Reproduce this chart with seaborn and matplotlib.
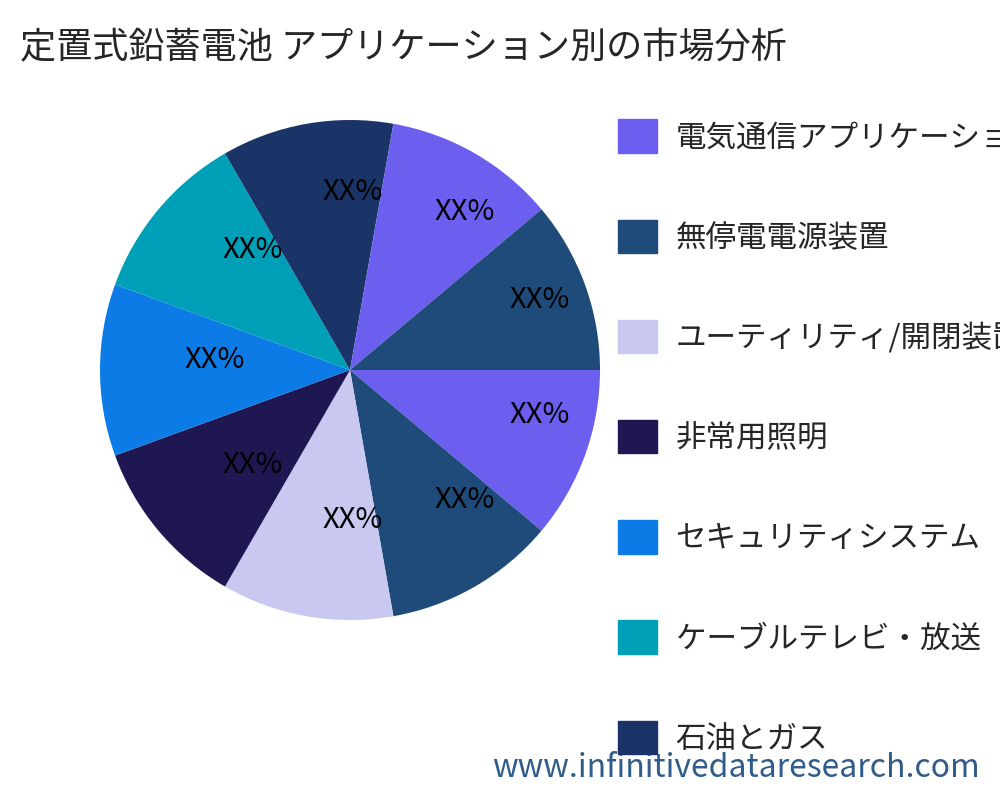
import matplotlib
matplotlib.use("Agg")
import matplotlib.pyplot as plt
import seaborn as sns
from matplotlib.patches import Patch

sns.set_theme(style="white")
plt.rcParams['font.family'] = ['Noto Sans CJK JP', 'DejaVu Sans']

labels = ["電気通信アプリケーション", "無停電電源装置", "ユーティリティ/開閉装置", "非常用照明",
          "セキュリティシステム", "ケーブルテレビ・放送", "石油とガス", "その他", "その他2"]
values = [1, 1, 1, 1, 1, 1, 1, 1, 1]
pct_text = ["XX%"] * 9
palette = ["#6C5FF0", "#1F4B7A", "#C8C8F0", "#1E1752", "#0C7BE6", "#009FB8", "#1B3468"]
colors = [palette[i % len(palette)] for i in range(len(values))]
# label placement (layout, in pie-radius units)
label_pos = [(0.76, -0.18), (0.46, -0.52), (0.01, -0.60), (-0.39, -0.38), (-0.54, 0.04),
             (-0.39, 0.48), (0.01, 0.71), (0.46, 0.63), (0.76, 0.28)]

fig = plt.figure(figsize=(10, 8), dpi=100)
ax = fig.add_axes([0.1, 0.225, 0.5, 0.625])
wedges, _ = ax.pie(values, colors=colors, startangle=0, counterclock=False,
                   wedgeprops=dict(linewidth=0))
for (x, y), t in zip(label_pos, pct_text):
    ax.text(x, y, t, ha="center", va="center", fontsize=21, color="black")
ax.set_xlim(-1, 1)
ax.set_ylim(-1, 1)
ax.set_aspect("equal")

handles = [Patch(color=palette[i]) for i in range(7)]
fig.legend(handles, labels[:7], loc="upper left", bbox_to_anchor=(0.59, 0.885),
           frameon=False, fontsize=22, handlelength=1.3, handleheight=1.3,
           labelspacing=2.17, handletextpad=0.6)

fig.text(0.02, 0.94, "定置式鉛蓄電池 アプリケーション別の市場分析", fontsize=26, ha="left", va="center")
fig.text(0.98, 0.04, "www.infinitivedataresearch.com", fontsize=23, color="#2F5C8A",
         ha="right", va="center")
fig.savefig("out.png")
